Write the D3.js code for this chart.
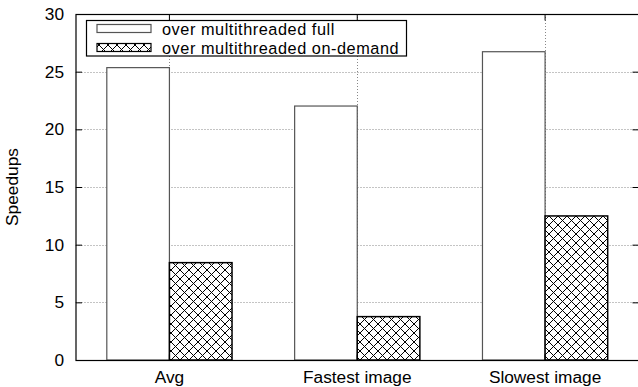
<!DOCTYPE html>
<html>
<head>
<meta charset="utf-8">
<script src="https://cdn.jsdelivr.net/npm/d3@7"></script>
<style>
  body { margin: 0; background: #fff; }
  svg { display: block; font-family: "Liberation Sans", Arial, sans-serif; }
</style>
</head>
<body>
<div id="plot"></div>
<script>
const categories = ["Avg", "Fastest image", "Slowest image"];
const seriesNames = ["over multithreaded full", "over multithreaded on-demand"];
const fullValues = [25.35, 22.02, 26.73];
const onDemandValues = [8.44, 3.76, 12.49];
const yTicks = [0, 5, 10, 15, 20, 25, 30];

const w = 638, h = 387;
const margin = {left: 75.5, right: -1, top: 14, bottom: 27};
const fs = 17.3;
const legFs = 16.3;

const svg = d3.select("#plot").append("svg")
  .attr("width", w).attr("height", h);

const defs = svg.append("defs");
const pat = defs.append("pattern")
  .attr("id", "hatch")
  .attr("patternUnits", "userSpaceOnUse")
  .attr("width", 9).attr("height", 9);
pat.append("rect").attr("width", 9).attr("height", 9).attr("fill", "#fff");
pat.append("path").attr("d", "M0,0L9,9M0,9L9,0M-1,1L1,-1M8,10L10,8M-1,8L1,10M8,-1L10,1")
  .attr("stroke", "#000").attr("stroke-width", 1);

const x = d3.scaleBand()
  .domain(categories)
  .range([margin.left, w - margin.right])
  .paddingInner(0).paddingOuter(0);

const y = d3.scaleLinear().domain([0, 30]).range([h - margin.bottom, margin.top]);

const x0 = margin.left, x1 = w - margin.right;
const yTop = margin.top, yBot = h - margin.bottom;

// grid
const grid = svg.append("g").attr("stroke", "#888").attr("stroke-dasharray", "1,2").attr("stroke-width", 1);
yTicks.slice(1, -1).forEach(t => {
  grid.append("line").attr("x1", x0).attr("x2", x1)
    .attr("y1", Math.round(y(t)) + 0.5).attr("y2", Math.round(y(t)) + 0.5);
});
categories.forEach(c => {
  const cx = Math.round(x(c) + x.bandwidth() / 2) + 0.5;
  grid.append("line").attr("x1", cx).attr("x2", cx).attr("y1", yTop).attr("y2", yBot);
});

// bars
const barW = x.bandwidth() / 3;
svg.append("g").selectAll("rect").data(categories).enter().append("rect")
  .attr("x", c => x(c) + x.bandwidth() / 2 - barW)
  .attr("y", (c, i) => y(fullValues[i]))
  .attr("width", barW)
  .attr("height", (c, i) => y(0) - y(fullValues[i]))
  .attr("fill", "#fff").attr("stroke", "#555").attr("stroke-width", 1.2);

svg.append("g").selectAll("rect").data(categories).enter().append("rect")
  .attr("x", c => x(c) + x.bandwidth() / 2)
  .attr("y", (c, i) => y(onDemandValues[i]))
  .attr("width", barW)
  .attr("height", (c, i) => y(0) - y(onDemandValues[i]))
  .attr("fill", "url(#hatch)").attr("stroke", "#000").attr("stroke-width", 1.5);

// border
svg.append("rect").attr("x", x0 + 0.5).attr("y", yTop + 0.5)
  .attr("width", x1 - x0).attr("height", yBot - yTop)
  .attr("fill", "none").attr("stroke", "#000").attr("stroke-width", 1.2);

// y axis (left ticks inward) and mirrored right ticks
const yAxisL = d3.axisLeft(y).tickValues(yTicks).tickSize(-6).tickPadding(12);
const gL = svg.append("g").attr("transform", `translate(${x0 + 0.5},0)`).call(yAxisL);
gL.select(".domain").remove();
gL.selectAll("text").attr("font-size", fs).attr("font-family", "Liberation Sans, Arial, sans-serif").attr("fill", "#000");
gL.selectAll("line").attr("stroke", "#000");

const yAxisR = d3.axisRight(y).tickValues(yTicks).tickSize(-6).tickFormat("");
const gR = svg.append("g").attr("transform", `translate(${x1 - 0.5},0)`).call(yAxisR);
gR.select(".domain").remove();
gR.selectAll("line").attr("stroke", "#000");

// x axis
const xAxisB = d3.axisBottom(x).tickSize(-6).tickPadding(10.5);
const gB = svg.append("g").attr("transform", `translate(0,${yBot + 0.5})`).call(xAxisB);
gB.select(".domain").remove();
gB.selectAll("text").attr("font-size", fs).attr("font-family", "Liberation Sans, Arial, sans-serif").attr("fill", "#000");
gB.selectAll("line").attr("stroke", "#000");

const xAxisT = d3.axisTop(x).tickSize(-6).tickFormat("");
const gT = svg.append("g").attr("transform", `translate(0,${yTop + 0.5})`).call(xAxisT);
gT.select(".domain").remove();
gT.selectAll("line").attr("stroke", "#000");

// y label
svg.append("text")
  .attr("transform", `translate(18,${(yTop + yBot) / 2}) rotate(-90)`)
  .attr("text-anchor", "middle")
  .attr("font-size", fs)
  .text("Speedups");

// legend
const leg = svg.append("g");
leg.append("rect").attr("x", 86.5).attr("y", 20.5).attr("width", 320).attr("height", 35.5)
  .attr("fill", "#fff").attr("stroke", "#000").attr("stroke-width", 1.2);
const legFills = [["#fff", "#555"], ["url(#hatch)", "#000"]];
seriesNames.forEach((name, i) => {
  const cy = 29 + i * 19;
  leg.append("rect").attr("x", 97).attr("y", cy - 4.5).attr("width", 54).attr("height", 8)
    .attr("fill", legFills[i][0]).attr("stroke", legFills[i][1]).attr("stroke-width", 1.2);
  leg.append("text").attr("x", 162).attr("y", cy).attr("dy", "0.35em")
    .attr("font-size", legFs).attr("letter-spacing", 0.55).text(name);
});
</script>
</body>
</html>
